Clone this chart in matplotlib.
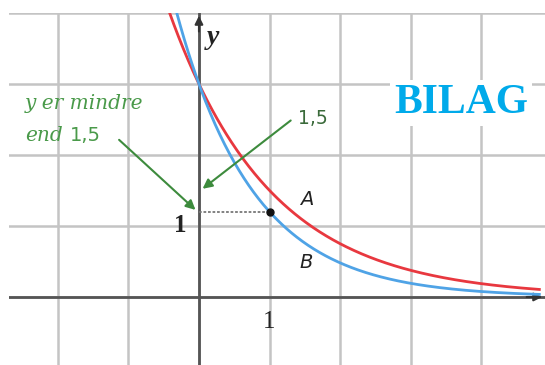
import numpy as np
import matplotlib.pyplot as plt

# two exponential models through (0, 3)
start = 3.0
base_a = 0.5
base_b = 0.4
x_mark = 1.0
y_mark = 1.2      # B at x = 1
y_arrow = 1.5     # A at x = 1

x_ticks = [-2, -1, 0, 1, 2, 3, 4]
y_ticks = [0, 1, 2, 3, 4]

fig = plt.figure(figsize=(5.45, 3.65), dpi=100)
ax = fig.add_axes([9 / 545, 0, 536 / 545, 352 / 365])
ax.set_xlim(-2.69, 4.90)
ax.set_ylim(-0.958, 4.0)

# grid
for gx in x_ticks:
    ax.axvline(gx, color='#c4c4c4', lw=1.8, zorder=0)
for gy in y_ticks:
    ax.axhline(gy, color='#c4c4c4', lw=1.8, zorder=0)

# axes with arrows
ax.axhline(0, color='#555555', lw=2, zorder=1)
ax.axvline(0, color='#555555', lw=2, zorder=1)
ax.annotate('', xy=(0, 4.0), xytext=(0, 3.7),
            arrowprops=dict(arrowstyle='-|>', color='#333333', lw=1.5, mutation_scale=12))
ax.annotate('', xy=(4.90, 0), xytext=(4.6, 0),
            arrowprops=dict(arrowstyle='-|>', color='#333333', lw=1.5, mutation_scale=12))

x = np.linspace(-0.6, 4.82, 400)
ax.plot(x, start * base_a ** x, color='#e8383f', lw=2, zorder=3)
ax.plot(x, start * base_b ** x, color='#4fa3e6', lw=2, zorder=3)

# marked point and dotted guide
ax.plot([0, x_mark], [y_mark, y_mark], color='#777777', lw=1.3, ls=(0, (1.5, 1)), zorder=2)
ax.plot(x_mark, y_mark, 'o', color='#111111', ms=5, zorder=4)

green = '#3d8b3d'
ax.annotate('', xy=(-0.02, y_mark), xytext=(-1.16, 2.24),
            arrowprops=dict(arrowstyle='-|>', color=green, lw=1.5, mutation_scale=14))
ax.annotate('', xy=(0.02, y_arrow), xytext=(1.33, 2.51),
            arrowprops=dict(arrowstyle='-|>', color=green, lw=1.5, mutation_scale=14))

ax.text(-2.46, 2.73, 'y er mindre', color='#4a9a4a', fontsize=14.5, style='italic',
        family='DejaVu Serif', va='center', ha='left')
ax.text(-2.46, 2.27, 'end', color='#4a9a4a', fontsize=14.5, style='italic',
        family='DejaVu Serif', va='center', ha='left')
ax.text(-1.83, 2.27, '1,5', color='#4a9a4a', fontsize=14, va='center', ha='left')
ax.text(1.40, 2.51, '1,5', color='#3a6a3a', fontsize=13.5, va='center', ha='left')

ax.text(1.52, 1.38, 'A', fontsize=14, style='italic', color='#222222', va='center', ha='center')
ax.text(1.52, 0.48, 'B', fontsize=14, style='italic', color='#222222', va='center', ha='center')

ax.text(-0.27, 1.0, '1', fontsize=18, family='Liberation Serif', fontweight='bold',
        color='#222222', va='center', ha='center')
ax.text(1.0, -0.35, '1', fontsize=18, family='Liberation Serif',
        color='#222222', va='center', ha='center')
ax.text(0.2, 3.66, 'y', fontsize=20, family='Liberation Serif', fontweight='bold',
        style='italic', color='#222222', va='center', ha='center')

ax.text(3.71, 2.73, 'BILAG', fontsize=30, family='Liberation Serif', fontweight='bold',
        color='#00aaea', va='center', ha='center',
        bbox=dict(facecolor='white', edgecolor='none', pad=3))

ax.axis('off')
fig.savefig('out.png', dpi=100)
